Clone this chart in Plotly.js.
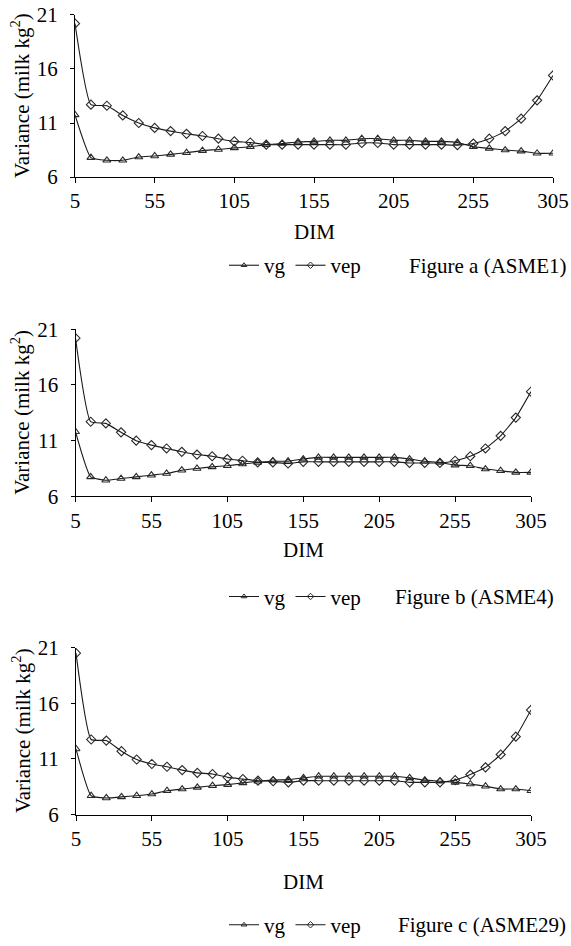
<!DOCTYPE html>
<html>
<head>
<meta charset="utf-8">
<script src="https://cdn.plot.ly/plotly-3.0.1.min.js"></script>
<style>html,body{margin:0;padding:0;background:#fff;}#chart{width:571px;height:946px;}</style>
</head>
<body>
<div id="chart"></div>
<script>
// ---- data ----
const dim = [5,15,25,35,45,55,65,75,85,95,105,115,125,135,145,155,165,175,185,195,205,215,225,235,245,255,265,275,285,295,305];
const xTicks = [5,55,105,155,205,255,305];
const yTicks = [6,11,16,21];

const vgA  = [11.75,7.8,7.55,7.55,7.85,7.95,8.1,8.25,8.45,8.55,8.7,8.8,9.0,9.1,9.25,9.3,9.4,9.4,9.55,9.55,9.4,9.4,9.3,9.3,9.2,8.8,8.65,8.5,8.4,8.2,8.2];
const vepA = [20.2,12.7,12.6,11.7,11.0,10.55,10.25,10.0,9.8,9.55,9.3,9.2,9.0,9.0,9.0,9.0,9.0,9.0,9.15,9.15,9.0,9.0,9.0,9.0,8.95,9.1,9.55,10.25,11.4,13.1,15.4];

const vgB  = [11.8,7.75,7.45,7.6,7.75,7.9,8.05,8.35,8.5,8.65,8.75,8.9,9.05,9.15,9.15,9.35,9.5,9.5,9.5,9.5,9.5,9.5,9.35,9.15,9.05,8.8,8.75,8.45,8.3,8.15,8.15];
const vepB = [20.2,12.7,12.55,11.75,11.0,10.6,10.3,10.0,9.75,9.6,9.35,9.2,9.05,9.05,8.95,9.1,9.1,9.1,9.1,9.1,9.1,9.1,9.0,9.0,9.0,9.2,9.6,10.3,11.43,13.07,15.4];

const vgC  = [11.9,7.7,7.5,7.6,7.7,7.85,8.15,8.3,8.45,8.6,8.7,8.85,9.0,9.1,9.15,9.3,9.45,9.45,9.45,9.45,9.45,9.45,9.3,9.1,9.0,8.9,8.75,8.55,8.3,8.3,8.15];
const vepC = [20.5,12.75,12.65,11.7,10.95,10.55,10.3,10.0,9.75,9.65,9.35,9.2,9.05,9.0,8.9,9.05,9.05,9.05,9.05,9.05,9.05,9.05,8.9,8.9,8.9,9.1,9.6,10.25,11.4,13.0,15.4];

const seriesNames = ['vg','vep'];
const panelLabels = ['Figure a (ASME1)','Figure b (ASME4)','Figure c (ASME29)'];
const yTitle = 'Variance (milk kg<sup>2</sup>)';
const xTitle = 'DIM';

// ---- layout geometry (pixels) ----
const W = 571, H = 946;
const panels = [
  {vg: vgA, vep: vepA, x0: 75,   x1: 553, yTop: 15,  yBot: 178, dimY: 233, legY: 267, labX: 568},
  {vg: vgB, vep: vepB, x0: 75.5, x1: 531, yTop: 331, yBot: 499, dimY: 553, legY: 600, labX: 556},
  {vg: vgC, vep: vepC, x0: 76,   x1: 531, yTop: 651, yBot: 819, dimY: 887, legY: 930, labX: 568}
];
const FONT = '"Liberation Serif", "Times New Roman", Times, serif';
const fx = p => p / W;
const fy = p => 1 - p / H;
const txt = (s) => ({family: FONT, size: s, color: '#000'});

const traces = [];
const layout = {
  width: W, height: H,
  margin: {l: 0, r: 0, t: 0, b: 0},
  paper_bgcolor: '#fff', plot_bgcolor: 'rgba(0,0,0,0)',
  font: txt(21),
  showlegend: true,
  annotations: []
};

const lineStyle = {color: '#1a1a1a', width: 1.1, shape: 'spline', smoothing: 0.45};
const symbols = ['triangle-up-open', 'diamond-open'];

panels.forEach((p, i) => {
  const n = i === 0 ? '' : String(i + 1);
  const legName = 'legend' + n;
  [p.vg, p.vep].forEach((ys, k) => {
    // plotted series
    traces.push({
      x: dim, y: ys, xaxis: 'x' + n, yaxis: 'y' + n, name: seriesNames[k],
      type: 'scatter', mode: 'lines+markers', showlegend: false,
      line: lineStyle,
      marker: {symbol: symbols[k], size: 7, color: '#2a2a2a', line: {width: 1.1}}
    });
    // legend key (small marker, as in the reference)
    traces.push({
      x: [null], y: [null], xaxis: 'x' + n, yaxis: 'y' + n, name: seriesNames[k],
      type: 'scatter', mode: 'lines+markers', legend: legName, showlegend: true,
      line: {color: '#1a1a1a', width: 1.1},
      marker: {symbol: symbols[k], size: 5, color: '#2a2a2a', line: {width: 1}}
    });
  });
  layout['xaxis' + n] = {
    domain: [fx(p.x0), fx(p.x1)], anchor: 'y' + n,
    range: [5, 305], tickvals: xTicks, ticktext: xTicks.map(String),
    showline: true, linecolor: '#000', linewidth: 1, mirror: false,
    ticks: 'outside', ticklen: 5, tickcolor: '#000', tickwidth: 1,
    showgrid: false, zeroline: false, automargin: false,
    tickfont: txt(21), ticklabelstandoff: 0
  };
  layout['yaxis' + n] = {
    domain: [fy(p.yBot), fy(p.yTop)], anchor: 'x' + n,
    range: [6, 21], tickvals: yTicks, ticktext: yTicks.map(String),
    showline: true, linecolor: '#000', linewidth: 1,
    ticks: 'outside', ticklen: 4, tickcolor: '#000', tickwidth: 1,
    showgrid: false, zeroline: false, automargin: false,
    tickfont: txt(21), ticklabelstandoff: 8
  };
  layout[legName] = {
    orientation: 'h', x: fx(224), xanchor: 'left', y: fy(p.legY), yanchor: 'middle',
    font: txt(21), bgcolor: 'rgba(0,0,0,0)',
    itemwidth: 30, tracegroupgap: 0
  };
  layout.annotations.push({
    text: xTitle, xref: 'paper', yref: 'paper', x: fx((p.x0 + p.x1) / 2), y: fy(p.dimY),
    xanchor: 'center', yanchor: 'middle', showarrow: false, font: txt(21)
  });
  layout.annotations.push({
    text: yTitle, xref: 'paper', yref: 'paper', x: fx(21), y: fy((p.yTop + p.yBot) / 2),
    xanchor: 'center', yanchor: 'middle', textangle: -90, showarrow: false, font: txt(21)
  });
  layout.annotations.push({
    text: panelLabels[i], xref: 'paper', yref: 'paper', x: fx(p.labX), y: fy(p.legY),
    xanchor: 'right', yanchor: 'middle', showarrow: false, font: txt(21)
  });
});

Plotly.newPlot('chart', traces, layout, {staticPlot: true, displayModeBar: false});
</script>
</body>
</html>
